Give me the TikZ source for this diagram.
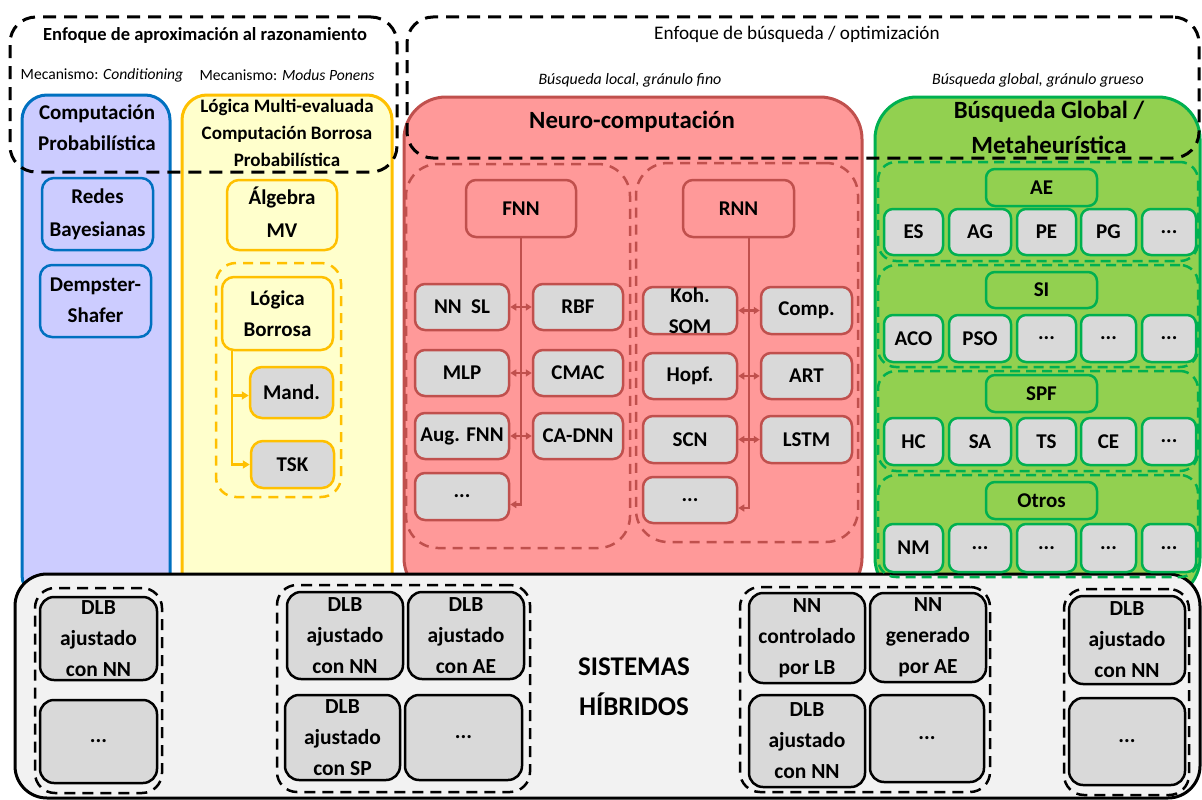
\documentclass[tikz,border=0pt]{standalone}
\usepackage{fontspec}
\setmainfont{Carlito}
\usetikzlibrary{arrows.meta,calc}
\definecolor{cblue}{HTML}{0070C0}
\definecolor{clav}{HTML}{CCCCFF}
\definecolor{cyel}{HTML}{FFC000}
\definecolor{cyelf}{HTML}{FFFFCC}
\definecolor{cred}{HTML}{C0504D}
\definecolor{credf}{HTML}{FF9999}
\definecolor{cgrn}{HTML}{00B050}
\definecolor{cgrnf}{HTML}{92D050}
\definecolor{cgray}{HTML}{D9D9D9}
\definecolor{chyb}{HTML}{F2F2F2}
\newcommand\mkbox[7]{\node[#1, minimum width={(#5)-(#3)}, minimum height={(#6)-(#4)}] (#2) at ({((#3)+(#5))/2},{((#4)+(#6))/2}) {#7};}
\tikzset{
  lbl/.style={font=\bfseries\fontsize{21}{31}\selectfont, align=center, inner sep=0pt},
  colbox/.style={inner sep=0pt, line width=3pt},
  bluecol/.style={colbox, draw=cblue, fill=clav, rounded corners=25pt},
  yelcol/.style={colbox, draw=cyel, fill=cyelf, rounded corners=25pt},
  redcol/.style={colbox, draw=cred, fill=credf, rounded corners=42pt},
  grncol/.style={colbox, draw=cgrn, fill=cgrnf, rounded corners=42pt},
  hybcol/.style={colbox, draw=black, fill=chyb, rounded corners=32pt},
  topdash/.style={inner sep=0pt, draw=black, line width=3pt, dash pattern=on 13pt off 8pt, rounded corners=26pt},
  bbox/.style={lbl, draw=cblue, fill=clav, line width=2.5pt, rounded corners=12pt},
  ybox/.style={lbl, draw=cyel, fill=cyelf, line width=2.5pt, rounded corners=12pt},
  ygbox/.style={ybox, fill=cgray},
  ydash/.style={inner sep=0pt, draw=cyel, line width=2.5pt, dash pattern=on 10pt off 7pt, rounded corners=20pt},
  rhead/.style={lbl, draw=cred, fill=credf, line width=2.5pt, rounded corners=10pt},
  ritem/.style={rhead, fill=cgray},
  rdash/.style={inner sep=0pt, draw=cred, line width=2.5pt, dash pattern=on 10pt off 7pt, rounded corners=32pt},
  ghead/.style={lbl, draw=cgrn, fill=cgrnf, line width=2.5pt, rounded corners=9pt},
  gitem/.style={ghead, fill=cgray},
  gdash/.style={inner sep=0pt, draw=cgrn, line width=2.5pt, dash pattern=on 10pt off 6pt, rounded corners=18pt},
  hitem/.style={lbl, font=\bfseries\fontsize{21.5}{31}\selectfont, draw=black, fill=cgray, line width=2.5pt, rounded corners=14pt},
  hdash/.style={inner sep=0pt, draw=black, line width=2.5pt, dash pattern=on 11pt off 7pt, rounded corners=20pt},
  ttl/.style={font=\bfseries\fontsize{18.5}{22}\selectfont, inner sep=0pt},
  ttlr/.style={font=\fontsize{19.2}{22}\selectfont, inner sep=0pt},
  subn/.style={font=\fontsize{15.6}{18}\selectfont, inner sep=0pt},
  subi/.style={font=\itshape\fontsize{15.9}{18}\selectfont, inner sep=0pt},
  tbig/.style={font=\bfseries\fontsize{24.8}{35}\selectfont, align=center, inner sep=0pt},
  yarrow/.style={draw=cyel, line width=2.5pt, -{Triangle[length=7pt,width=8pt]}},
  rarrow/.style={draw=cred, line width=2.5pt, -{Triangle[length=6pt,width=7pt]}},
  rdbl/.style={draw=cred, line width=2.5pt, {Triangle[length=6pt,width=7pt]}-{Triangle[length=6pt,width=7pt]}},
}
\begin{document}
\begin{tikzpicture}[x=1pt,y=-1pt]
\useasboundingbox (0,0) rectangle (1202,800);
% columns
\mkbox{bluecol}{blue}{22}{95}{170}{600}{}
\mkbox{yelcol}{yel}{182}{95}{392}{600}{}
\mkbox{redcol}{red}{404}{97}{862}{600}{}
\mkbox{grncol}{grn}{875}{97}{1200}{600}{}
% hybrid
\mkbox{hybcol}{hyb}{15}{574}{1200}{798}{}
% top dashed
\mkbox{topdash}{razon}{10}{17}{397}{172}{}
\mkbox{topdash}{busq}{407}{17}{1199}{158}{}
% top texts
\node[ttl] (trazon) at (205,35) {Enfoque de aproximación al razonamiento};
\node[subn] (mcond) at (102,75) {Mecanismo: \textit{Conditioning}};
\node[subn] (mmp) at (287,75) {Mecanismo: \textit{Modus Ponens}};
\node[ttlr] (tbusq) at (797,34) {Enfoque de búsqueda / optimización};
\node[subi] (bloc) at (630,80) {Búsqueda local, gránulo fino};
\node[subi] (bglo) at (1038,80) {Búsqueda global, gránulo grueso};
% blue column
\node[lbl, font=\bfseries\fontsize{21}{31}\selectfont] (tprob) at (97,128) {Computación\\Probabilística};
\mkbox{bbox}{redes}{42}{178}{153}{250}{\raisebox{-3pt}{\begin{tabular}{@{}c@{}}Redes\\[2pt]Bayesianas\end{tabular}}}
\mkbox{bbox}{dempster}{40}{265}{151}{337}{\raisebox{4pt}{\begin{tabular}{@{}c@{}}Dempster-\\Shafer\end{tabular}}}
% yellow column
\node[lbl, font=\bfseries\fontsize{19}{27}\selectfont] (tlog) at (287,133) {Lógica Multi-evaluada\\Computación Borrosa\\Probabilística};
\mkbox{ybox}{algebra}{227}{180}{337}{250}{\raisebox{6pt}{\begin{tabular}{@{}c@{}}Álgebra\\[2pt]MV\end{tabular}}}
\mkbox{ydash}{lbgrp}{216}{263}{341}{497}{}
\mkbox{ybox}{lborrosa}{222}{277}{333}{350}{Lógica\\Borrosa}
\mkbox{ygbox}{mand}{250}{367}{333}{418}{Mand.}
\mkbox{ygbox}{tsk}{251}{441}{334}{488}{TSK}
\coordinate (yb) at (232,0);
\draw[yarrow] (lborrosa.south -| yb) -- (yb |- tsk.west) -- (tsk.west);
\draw[yarrow] ($(yb |- mand.west)+(0,3)$) -- ($(mand.west)+(0,3)$);
% red column
\node[tbig] (tneuro) at (632,122) {Neuro-computación};
\mkbox{rdash}{fgrp}{406}{164}{630}{548}{}
\mkbox{rdash}{rgrp}{636}{163}{858}{542}{}
\mkbox{rhead}{fnn}{466}{180}{576}{237}{FNN}
\mkbox{rhead}{rnn}{683}{180}{794}{237}{RNN}
\mkbox{ritem}{nnsl}{415}{284}{509}{330}{NN~~SL}
\mkbox{ritem}{rbf}{533}{284}{623}{330}{RBF}
\mkbox{ritem}{mlp}{415}{350}{509}{396}{MLP}
\mkbox{ritem}{cmac}{533}{350}{623}{396}{CMAC}
\mkbox{ritem}{augfnn}{415}{413}{509}{459}{Aug. FNN}
\mkbox{ritem}{cadnn}{533}{413}{623}{459}{CA-DNN}
\mkbox{ritem}{fdots}{415}{473}{509}{520}{...}
\mkbox{ritem}{koh}{643}{287}{737}{334}{Koh.\\SOM}
\mkbox{ritem}{comp}{761}{287}{852}{334}{Comp.}
\mkbox{ritem}{hopf}{643}{353}{737}{399}{Hopf.}
\mkbox{ritem}{art}{761}{353}{852}{399}{ART}
\mkbox{ritem}{scn}{643}{416}{737}{463}{SCN}
\mkbox{ritem}{lstm}{761}{416}{852}{463}{LSTM}
\mkbox{ritem}{rdots}{643}{477}{737}{523}{...}
\coordinate (fm) at ($(nnsl.east)!.5!(rbf.west)$);
\draw[rarrow] (fnn.south -| fm) -- ($(fm |- fdots.east)+(0,8)$) -- ($(fdots.east)+(0,8)$);
\draw[rdbl] (nnsl.east) -- (rbf.west);
\draw[rdbl] (mlp.east) -- (cmac.west);
\draw[rdbl] (augfnn.east) -- (cadnn.west);
\coordinate (rm) at ($(koh.east)!.5!(comp.west)$);
\draw[rarrow] (rnn.south -| rm) -- ($(rm |- rdots.east)+(0,8)$) -- ($(rdots.east)+(0,8)$);
\draw[rdbl] (koh.east) -- (comp.west);
\draw[rdbl] (hopf.east) -- (art.west);
\draw[rdbl] (scn.east) -- (lstm.west);
% green column
\node[tbig] (tglob) at (1049,127) {Búsqueda Global /\\Metaheurística};
\mkbox{gdash}{gae}{878}{162}{1198}{261}{}
\mkbox{gdash}{gsi}{878}{265}{1198}{367}{}
\mkbox{gdash}{gspf}{878}{371}{1198}{471}{}
\mkbox{gdash}{gotr}{878}{475}{1198}{577}{}
\mkbox{ghead}{ae}{986}{169}{1097}{206}{AE}
\mkbox{ghead}{si}{986}{272}{1097}{308}{SI}
\mkbox{ghead}{spf}{986}{375}{1097}{412}{SPF}
\mkbox{ghead}{otros}{986}{482}{1097}{519}{Otros}
\mkbox{gitem}{es}{884}{209}{943}{255}{ES}
\mkbox{gitem}{ag}{949}{209}{1011}{255}{AG}
\mkbox{gitem}{pe}{1017}{209}{1076}{255}{PE}
\mkbox{gitem}{pg}{1081}{209}{1136}{255}{PG}
\mkbox{gitem}{aed}{1142}{209}{1196}{255}{...}
\mkbox{gitem}{aco}{884}{315}{943}{362}{ACO}
\mkbox{gitem}{pso}{949}{315}{1011}{362}{PSO}
\mkbox{gitem}{sia}{1017}{315}{1076}{362}{...}
\mkbox{gitem}{sib}{1081}{315}{1136}{362}{...}
\mkbox{gitem}{sic}{1142}{315}{1196}{362}{...}
\mkbox{gitem}{hc}{884}{418}{943}{465}{HC}
\mkbox{gitem}{sa}{949}{418}{1011}{465}{SA}
\mkbox{gitem}{ts}{1017}{418}{1076}{465}{TS}
\mkbox{gitem}{ce}{1081}{418}{1136}{465}{CE}
\mkbox{gitem}{spfd}{1142}{418}{1196}{465}{...}
\mkbox{gitem}{nm}{884}{524}{943}{572}{NM}
\mkbox{gitem}{ota}{949}{524}{1011}{572}{...}
\mkbox{gitem}{otb}{1017}{524}{1076}{572}{...}
\mkbox{gitem}{otc}{1081}{524}{1136}{572}{...}
\mkbox{gitem}{otd}{1142}{524}{1196}{572}{...}
% hybrid systems
\mkbox{hdash}{h1}{35}{588}{162}{793}{}
\mkbox{hitem}{h1a}{40}{597}{157}{680}{DLB\\ajustado\\con NN}
\mkbox{hitem}{h1b}{40}{700}{157}{783}{...}
\mkbox{hdash}{h2}{277}{585}{530}{792}{}
\mkbox{hitem}{h2a}{287}{592}{403}{679}{DLB\\ajustado\\con NN}
\mkbox{hitem}{h2b}{408}{592}{524}{679}{DLB\\ajustado\\con AE}
\mkbox{hitem}{h2c}{285}{695}{400}{780}{DLB\\ajustado\\con SP}
\mkbox{hitem}{h2d}{405}{695}{522}{780}{...}
\node[lbl, font=\bfseries\fontsize{27}{40}\selectfont] (tsh) at (634,687) {SISTEMAS\\HÍBRIDOS};
\mkbox{hdash}{h3}{740}{587}{990}{792}{}
\mkbox{hitem}{h3a}{749}{593}{865}{683}{NN\\controlado\\por LB}
\mkbox{hitem}{h3b}{870}{593}{986}{682}{NN\\generado\\por AE}
\mkbox{hitem}{h3c}{749}{695}{865}{787}{DLB\\ajustado\\con NN}
\mkbox{hitem}{h3d}{870}{695}{984}{782}{...}
\mkbox{hdash}{h4}{1064}{589}{1189}{795}{}
\mkbox{hitem}{h4a}{1069}{596}{1185}{684}{DLB\\ajustado\\con NN}
\mkbox{hitem}{h4b}{1069}{698}{1185}{785}{...}
\end{tikzpicture}
\end{document}
